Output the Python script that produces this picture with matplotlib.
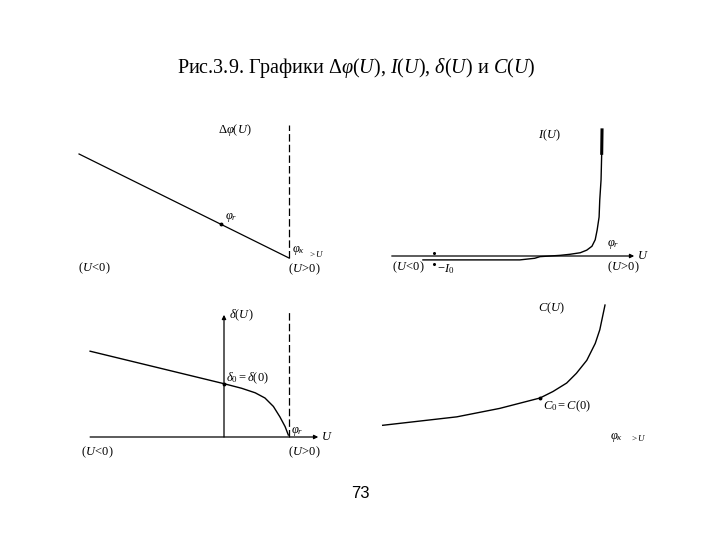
import matplotlib
matplotlib.use("Agg")
import matplotlib.pyplot as plt

plt.rcParams["font.family"] = ["Liberation Serif", "DejaVu Serif"]
plt.rcParams["mathtext.fontset"] = "custom"
plt.rcParams["mathtext.rm"] = "Liberation Serif"
plt.rcParams["mathtext.it"] = "Liberation Serif:italic"

# --- values (U in units of phi_k, value in arbitrary units) ---
# panel 1: delta phi(U), straight line ending at phi_k
dphi_U = [-2.23, 1.0]
dphi_V = [1.60, 0.0]
dphi_r = (-0.05, 0.52)

# panel 2: I(U), diode current
cur_U = [-1.77, -0.28, -0.05, 0.03, 0.34, 0.49, 0.65, 0.75, 0.83, 0.88, 0.91,
         0.94, 0.95, 0.97, 0.98, 0.985]
cur_V = [-0.06, -0.06, -0.035, -0.01, 0.01, 0.026, 0.05, 0.09, 0.15, 0.25, 0.40,
         0.60, 0.86, 1.17, 1.58, 1.94]

# panel 3: delta(U)
del_U = [-2.06, 0.0, 0.27, 0.48, 0.63, 0.76, 0.86, 0.94, 0.99]
del_V = [1.32, 0.82, 0.75, 0.68, 0.60, 0.47, 0.31, 0.16, 0.03]

# panel 4: C(U)
cap_U = [-2.42, -1.28, -0.62, -0.31, 0.0, 0.2, 0.41, 0.56, 0.72, 0.85, 0.92, 1.0]
cap_V = [0.18, 0.31, 0.44, 0.52, 0.60, 0.70, 0.83, 0.98, 1.18, 1.44, 1.65, 2.03]

W, H, S = 720, 540, 65
fig = plt.figure(figsize=(7.2, 5.4), dpi=100)


def panel(ox, oy, xlim, ylim):
    # axes whose data origin sits at pixel (ox, oy), S pixels per unit
    x0 = ox + xlim[0] * S
    x1 = ox + xlim[1] * S
    ytop = oy - ylim[1] * S
    ybot = oy - ylim[0] * S
    ax = fig.add_axes([x0 / W, 1 - ybot / H, (x1 - x0) / W, (ybot - ytop) / H])
    ax.set_xlim(xlim)
    ax.set_ylim(ylim)
    ax.axis("off")
    return ax


def arrow_line(ax, start, end):
    ax.annotate("", xy=end, xytext=start,
                arrowprops=dict(arrowstyle="-|>", lw=0.9, color="black",
                                mutation_scale=6, shrinkA=0, shrinkB=0))


fs = 9
kw = dict(fontsize=fs, clip_on=False)

# ---- panel 1: delta phi(U)
ax = panel(224, 258, (-2.6, 1.8), (-0.35, 2.2))
ax.plot(dphi_U, dphi_V, color="black", lw=0.9)
ax.plot([1.0, 1.0], [0.0, 2.05], color="black", lw=0.9, dashes=(6, 2.5))
ax.plot(*dphi_r, "o", color="black", ms=1.8)
ax.text(-0.1, 1.97, r"$\Delta\varphi(U)$", ha="left", va="center", **kw)
ax.text(0.02, 0.62, r"$\varphi_r$", ha="left", va="center", **kw)
ax.text(1.05, 0.12, r"$\varphi_\kappa$", ha="left", va="center", **kw)
ax.text(1.3, 0.06, r"$> U$", ha="left", va="center", fontsize=6.5, clip_on=False)
ax.text(-2.25, -0.16, r"$(U\!<\!0)$", ha="left", va="center", **kw)
ax.text(0.98, -0.17, r"$(U\!>\!0)$", ha="left", va="center", **kw)

# ---- panel 2: I(U)
ax = panel(538, 256, (-2.4, 1.75), (-0.35, 2.05))
arrow_line(ax, (-2.25, 0.0), (1.48, 0.0))
ax.plot(cur_U, cur_V, color="black", lw=1.0)
ax.plot(cur_U[-2:], cur_V[-2:], color="black", lw=2.2)
ax.plot([-1.6, -1.6], [0.05, -0.12], "o", color="black", ms=1.2)
ax.text(0.0, 1.86, r"$I(U)$", ha="left", va="center", **kw)
ax.text(1.06, 0.18, r"$\varphi_r$", ha="left", va="center", **kw)
ax.text(1.53, 0.0, r"$U$", ha="left", va="center", **kw)
ax.text(-2.25, -0.18, r"$(U\!<\!0)$", ha="left", va="center", **kw)
ax.text(-1.55, -0.2, r"$-I_0$", ha="left", va="center", **kw)
ax.text(1.06, -0.18, r"$(U\!>\!0)$", ha="left", va="center", **kw)

# ---- panel 3: delta(U)
ax = panel(224, 437, (-2.4, 1.75), (-0.4, 2.0))
arrow_line(ax, (-2.06, 0.0), (1.45, 0.0))
arrow_line(ax, (0.0, 0.0), (0.0, 1.88))
ax.plot([1.0, 1.0], [0.0, 1.95], color="black", lw=0.9, dashes=(6, 2.5))
ax.plot(del_U, del_V, color="black", lw=1.0)
ax.plot(0, del_V[1], "o", color="black", ms=1.8)
ax.text(0.07, 1.88, r"$\delta(U)$", ha="left", va="center", **kw)
ax.text(0.03, 0.9, r"$\delta_0=\delta(0)$", ha="left", va="center", **kw)
ax.text(1.03, 0.08, r"$\varphi_r$", ha="left", va="center", **kw)
ax.text(1.5, 0.0, r"$U$", ha="left", va="center", **kw)
ax.text(-2.2, -0.23, r"$(U\!<\!0)$", ha="left", va="center", **kw)
ax.text(0.99, -0.23, r"$(U\!>\!0)$", ha="left", va="center", **kw)

# ---- panel 4: C(U)
ax = panel(540, 437, (-2.6, 1.7), (-0.3, 2.1))
ax.plot(cap_U, cap_V, color="black", lw=1.0)
ax.plot(0, cap_V[4], "o", color="black", ms=1.8)
ax.text(-0.03, 1.98, r"$C(U)$", ha="left", va="center", **kw)
ax.text(0.05, 0.47, r"$C_0=C(0)$", ha="left", va="center", **kw)
ax.text(1.08, 0.0, r"$\varphi_\kappa$", ha="left", va="center", **kw)
ax.text(1.38, -0.02, r"$> U$", ha="left", va="center", fontsize=6.5, clip_on=False)

# ---- title and page number
fig.text(356 / W, 1 - 68 / H,
         r"Рис.3.9. Графики $\mathit{\Delta\varphi(U)}$, $\mathit{I(U)}$, "
         r"$\mathit{\delta(U)}$ и $\mathit{C(U)}$",
         ha="center", va="center", fontsize=14.5)
fig.text(360 / W, 1 - 493 / H, "73", ha="center", va="center",
         fontsize=12, family="Liberation Sans")

fig.savefig("out.png", dpi=100)
